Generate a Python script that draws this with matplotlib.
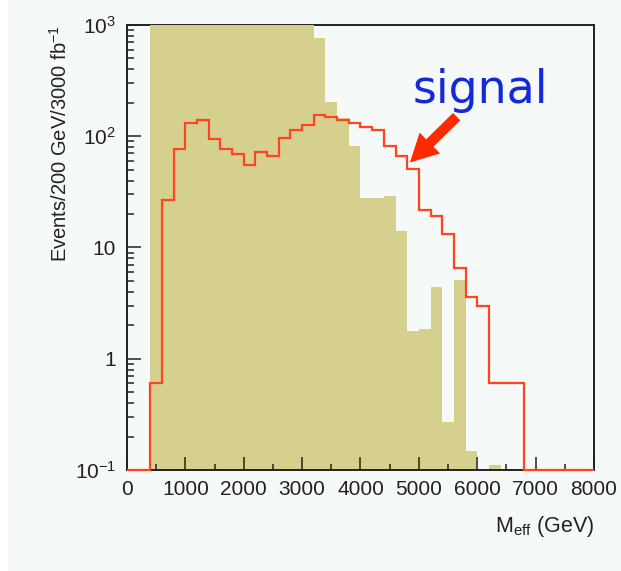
import numpy as np
import matplotlib
matplotlib.use("Agg")
import matplotlib.pyplot as plt
from matplotlib.ticker import MultipleLocator, LogLocator, NullFormatter
from matplotlib.patches import Rectangle


# Histogram binning: 200 GeV bins from 0 to 8000 GeV
bin_edges = np.arange(0, 8001, 200)

# Background (filled, tan) events per bin; first bins run off the top of the plot
background = [0, 0,
              1500, 4200, 6800, 7500, 6900, 6000, 5100, 4300, 3600, 3000, 2500, 2000, 1600, 1300,
              770, 205, 145, 82, 28, 28, 29, 14.2, 1.78, 1.84, 4.44, 0.27, 5.1, 0.147, 0, 0.112,
              0, 0, 0, 0, 0, 0, 0, 0]

# Signal (red outline) events per bin
signal = [0, 0,
          0.6, 26.5, 77, 131, 140, 94, 77, 69, 55, 72, 67, 97, 114, 127,
          154, 150, 141, 131, 122, 114, 82, 67, 50.5, 21.7, 19.3, 13.2, 6.5, 3.6, 3.0, 0.6,
          0.6, 0.6, 0, 0, 0, 0, 0, 0]

y_ticks = [0.1, 1, 10, 100, 1000]
y_tick_labels = [r"$10^{-1}$", "1", "10", r"$10^{2}$", r"$10^{3}$"]
x_ticks = [0, 1000, 2000, 3000, 4000, 5000, 6000, 7000, 8000]

y_min, y_max = 0.1, 1000

bg_color = "#f5f9f7"
tan = "#d6d08f"
red = "#ff4422"
ink = "#222222"

plt.rcParams["font.family"] = ["Liberation Sans", "DejaVu Sans"]
plt.rcParams["mathtext.fontset"] = "custom"
plt.rcParams["mathtext.rm"] = "Liberation Sans"
plt.rcParams["mathtext.it"] = "Liberation Sans"
plt.rcParams["mathtext.default"] = "rm"

fig = plt.figure(figsize=(6.21, 5.71), dpi=100, facecolor=bg_color)
# thin white strip on the left edge of the picture
fig.patches.append(Rectangle((0, 0), 8 / 621, 1, transform=fig.transFigure,
                             facecolor="white", edgecolor="none", zorder=-1))

ax = fig.add_axes([0.2045, 0.1769, 0.752, 0.7793])
ax.set_facecolor(bg_color)
ax.set_yscale("log")

# background histogram (filled)
ax.bar(bin_edges[:-1], background, width=200, align="edge", color=tan,
       linewidth=0, zorder=1)

# signal histogram (outline); empty bins sit on the bottom of the frame like ROOT does
sig = np.clip(np.array(signal, dtype=float), y_min, None)
ax.stairs(sig, bin_edges, color=red, linewidth=1.6, baseline=None,
          clip_on=False, zorder=3)

ax.set_xlim(0, 8000)
ax.set_ylim(y_min, y_max)

ax.set_xticks(x_ticks)
ax.set_xticklabels([str(t) for t in x_ticks])
ax.xaxis.set_minor_locator(MultipleLocator(500))

ax.set_yticks(y_ticks)
ax.set_yticklabels(y_tick_labels)
ax.yaxis.set_minor_locator(LogLocator(base=10, subs=np.arange(2, 10)))
ax.yaxis.set_minor_formatter(NullFormatter())

ax.tick_params(axis="both", which="both", direction="in", top=False, right=False,
               color=ink, width=1.1, labelcolor=ink, labelsize=15)
ax.tick_params(axis="y", which="major", length=10, pad=8)
ax.tick_params(axis="y", which="minor", length=5)
ax.tick_params(axis="x", which="major", length=9.5, pad=7)
ax.tick_params(axis="x", which="minor", length=4.5)

for side in ["left", "right", "top", "bottom"]:
    ax.spines[side].set_linewidth(1.4)
    ax.spines[side].set_color(ink)
# the filled histogram is drawn over the top of the frame
ax.spines["top"].set_zorder(0.5)

ax.set_xlabel(r"M$_{\mathrm{eff}}$ (GeV)", loc="right", fontsize=15.5,
              color=ink, labelpad=11)
ax.set_ylabel(r"Events/200 GeV/3000 fb$^{-1}$", loc="top", fontsize=14.5,
              color=ink, labelpad=3)

# "signal" label with arrow
ax.annotate("", xy=(0.606, 0.691), xytext=(0.706, 0.794),
            xycoords="axes fraction", textcoords="axes fraction",
            arrowprops=dict(arrowstyle="simple,head_length=2.0,head_width=2.1,tail_width=0.75",
                            color="#ff2a00", lw=0, shrinkA=0, shrinkB=0),
            zorder=5)
ax.text(0.756, 0.825, "signal", transform=ax.transAxes, ha="center", va="baseline",
        fontsize=33, color="#1428dc", family="DejaVu Sans", zorder=5)

fig.savefig("out.png", dpi=100, facecolor=fig.get_facecolor())
